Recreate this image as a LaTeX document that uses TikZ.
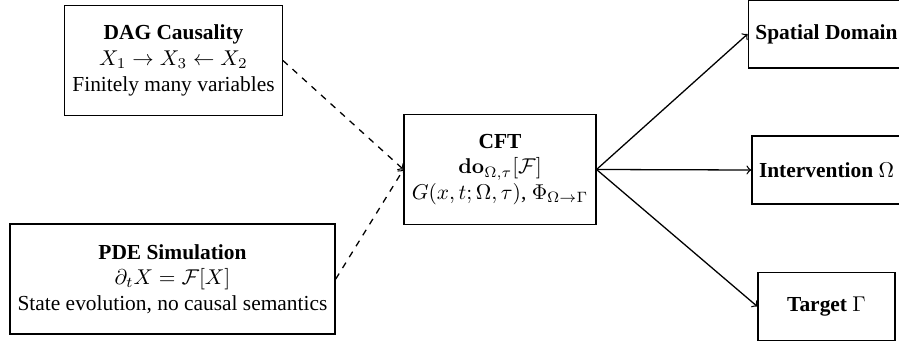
\documentclass[tikz,border=0pt]{standalone}
\usepackage[no-math]{fontspec}
\setmainfont{Liberation Serif}
\tikzset{box/.style={draw, align=center, inner sep=3.6pt, minimum height=51.5pt}, outbox/.style={draw, align=center, minimum width=64pt, minimum height=31.8pt}}

\begin{document}
\begin{tikzpicture}[x=0.467pt,y=-0.467pt,semithick]
        \useasboundingbox (0,0) rectangle (899,347);
        \clip (0,0) rectangle (899,347);
        \node[box] (dag) at (173.5, 60.5) {\textbf{DAG Causality}\\ $X_1 \rightarrow X_3 \leftarrow X_2$\\ Finitely many variables};
        \node[box] (pde) at (172.5, 279) {\textbf{PDE Simulation}\\ $\partial_t X = \mathcal{F}[X]$\\ State evolution, no causal semantics};
        \node[box] (cft) at (500, 169.5) {\textbf{CFT}\\ $\mathbf{do}_{\Omega,\tau}[\mathcal{F}]$\\ $G(x,t;\Omega,\tau)$, $\Phi_{\Omega\rightarrow\Gamma}$};
        \node[outbox] (dom) at (826.5, 34) {\textbf{Spatial Domain}};
        \node[outbox] (int) at (826.5, 170) {\textbf{Intervention} $\Omega$};
        \node[outbox] (tgt) at (826.5, 306.5) {\textbf{Target} $\Gamma$};
        \draw[dashed,->] (dag.east) -- (cft.west);
        \draw[dashed,->] (pde.east) -- (cft.west);
        \draw[->] (cft.east) -- (dom.west);
        \draw[->] (cft.east) -- (int.west);
        \draw[->] (cft.east) -- (tgt.west);
\end{tikzpicture}
\end{document}
